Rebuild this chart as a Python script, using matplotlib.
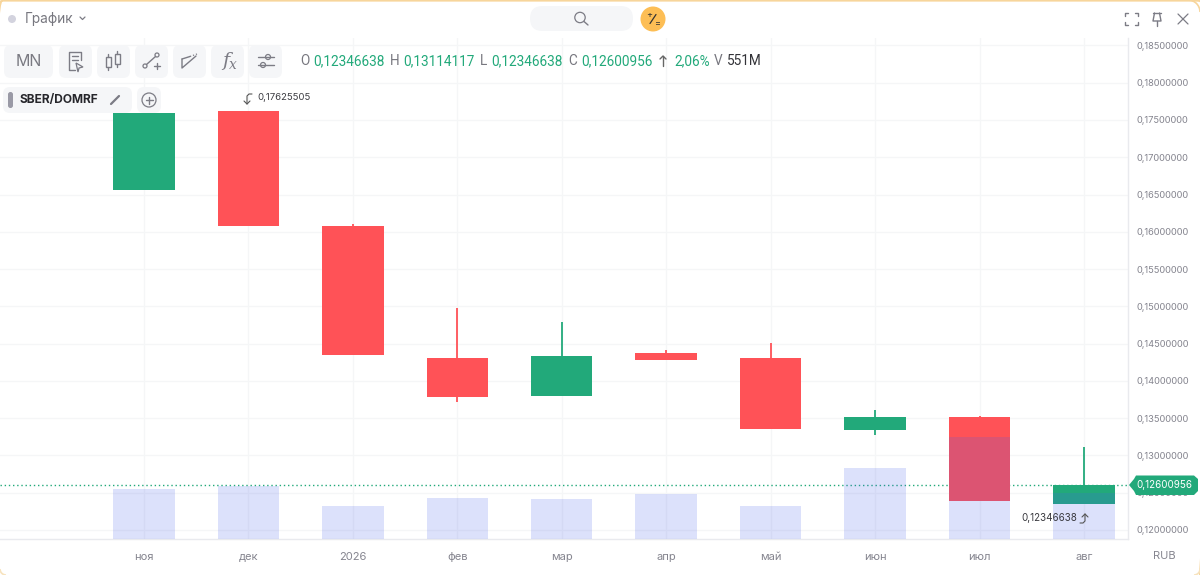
import matplotlib
matplotlib.use("Agg")
import matplotlib.pyplot as plt
from matplotlib.patches import FancyBboxPatch, Circle, Polygon, Rectangle, Arc

plt.rcParams['font.family'] = ['Inter', 'DejaVu Sans']

# Datos de las velas mensuales
meses = ["ноя", "дек", "2026", "фев", "мар", "апр", "май", "июн", "июл", "авг"]
apertura = [0.1656, 0.17621, 0.1608, 0.14301, 0.13798, 0.14375, 0.14301, 0.13342, 0.13516, 0.12346638]
cierre = [0.1759, 0.16078, 0.14348, 0.13784, 0.14328, 0.14281, 0.13355, 0.13516, 0.12389, 0.12600956]
maximo = [0.1759, 0.17625505, 0.16105, 0.14978, 0.1479, 0.14415, 0.14509, 0.1361, 0.1353, 0.13114117]
minimo = [0.1656, 0.16078, 0.14348, 0.13717, 0.13798, 0.14281, 0.13355, 0.13274, 0.12389, 0.12346638]
volumen = [599, 635, 395, 491, 479, 545, 395, 851, 1222, 551]
precios_eje = [0.12, 0.125, 0.13, 0.135, 0.14, 0.145, 0.15, 0.155, 0.16, 0.165, 0.17, 0.175, 0.18, 0.185]
ultimo = 0.12600956

VERDE = "#22A97A"
ROJO = "#FF5257"
GRIS = "#85858F"
ICONO = "#7C7C85"

W, H = 1200, 575
fig = plt.figure(figsize=(W / 100, H / 100), dpi=100, facecolor="white")

# Ejes del grafico principal
ax = fig.add_axes([0, (H - 539) / H, 1128 / W, (539 - 38) / H])
ax.set_xlim(-1.378, 9.421)
ax.set_ylim(0.11879, 0.18600)
ax.set_facecolor("white")
ax.set_axisbelow(True)
ax.grid(True, color="#F5F6F7", lw=0.9)
for lado in ["top", "left"]:
    ax.spines[lado].set_visible(False)
for lado in ["right", "bottom"]:
    ax.spines[lado].set_color("#E9EAEE")
    ax.spines[lado].set_linewidth(1)

x = list(range(len(meses)))

# Linea punteada del ultimo precio
ax.axhline(ultimo, color=VERDE, lw=1, ls=(0, (1, 2)), zorder=1)

# Velas
for i in x:
    color = VERDE if cierre[i] >= apertura[i] else ROJO
    ax.vlines(i, minimo[i], maximo[i], color=color, lw=1.3, zorder=2)
    abajo = min(apertura[i], cierre[i])
    ax.bar(i, abs(cierre[i] - apertura[i]), bottom=abajo, width=0.588, color=color, zorder=3)

# Volumen encima de las velas
ax2 = ax.twinx()
ax2.set_ylim(0, 6002)
ax2.axis("off")
ax2.bar(x, volumen, width=0.588, color="#4761EA", alpha=0.19, lw=0)

# twinx deja las marcas a la izquierda, se vuelven a poner a la derecha
ax.set_xticks(x)
ax.set_xticklabels(meses)
ax.yaxis.tick_right()
ax.set_yticks(precios_eje)
ax.set_yticklabels(["{:.8f}".format(p).replace(".", ",") for p in precios_eje])
ax.tick_params(axis="x", length=0, pad=9, labelsize=8, labelcolor=GRIS)
ax.tick_params(axis="y", length=0, pad=6.2, labelsize=6.7, labelcolor=GRIS)

# Capa con la interfaz, en pixeles
ui = fig.add_axes([0, 0, 1, 1], zorder=10)
ui.set_xlim(0, W)
ui.set_ylim(H, 0)
ui.axis("off")


def boton(x0, y0, x1, y1, radio=7, color="#F5F6F8"):
    ui.add_patch(FancyBboxPatch((x0 + radio, y0 + radio), x1 - x0 - 2 * radio, y1 - y0 - 2 * radio,
                                boxstyle="round,pad={},rounding_size={}".format(radio, radio),
                                fc=color, ec="none"))


def trazo(xs, ys, color=ICONO, lw=1.0):
    ui.plot(xs, ys, color=color, lw=lw, solid_capstyle="round")


# Borde superior naranja
ui.add_patch(FancyBboxPatch((-10, 0.5), W + 20 - 2, H + 20, boxstyle="round,pad=0,rounding_size=12",
                            fc="none", ec="#F7D59B", lw=1.6))
ui.add_patch(Arc((W - 12, 12), 24, 24, theta1=-90, theta2=0, color="#F7D59B", lw=1.2))
ui.add_patch(Arc((W - 6, H - 6), 12, 12, theta1=0, theta2=90, color="#F7E3BE", lw=1.2))
ui.add_patch(Arc((6, H - 6), 12, 12, theta1=90, theta2=180, color="#F7E3BE", lw=1.2))

# Cabecera
ui.add_patch(Circle((12, 19), 4, fc="#D3D3DE", ec="none"))
ui.text(25, 19, "График", fontsize=9.8, color="#77777F", va="center")
trazo([80, 82.5, 85], [17, 19.5, 17], lw=0.9)
boton(530, 6, 633, 31, radio=12.5)
ui.add_patch(Circle((580, 17.5), 5.2, fc="none", ec=ICONO, lw=0.9))
trazo([584, 588], [21.5, 25])
ui.add_patch(Circle((653, 19), 12.5, fc="#FDBE55", ec="none"))
trazo([650, 656], [23.5, 14.5], color="#333333", lw=0.9)
ui.text(649.5, 14.5, "+", fontsize=6.5, color="#333333", ha="center", va="center")
ui.text(657.5, 23.5, "=", fontsize=6.5, color="#333333", ha="center", va="center")

# Iconos de la derecha
for sx, sy in [(1125, 13), (1138, 13), (1125, 25), (1138, 25)]:
    dx = 3 if sx < 1130 else -3
    dy = 3 if sy < 19 else -3
    trazo([sx + dx, sx, sx], [sy, sy, sy + dy], lw=1.0)
trazo([1153, 1161], [13, 13])
trazo([1154.5, 1153, 1161, 1159.5], [13, 21, 21, 13])
trazo([1157, 1157], [21, 26])
trazo([1178, 1188], [14, 24], lw=0.9)
trazo([1188, 1178], [14, 24], lw=0.9)

# Barra de herramientas
boton(4, 45, 53, 78)
for x0 in [59, 97, 135, 173, 211, 249]:
    boton(x0, 45, x0 + 33, 78)
ui.text(28.5, 61, "MN", fontsize=11.5, color="#7A7A82", ha="center", va="center")
# informe
trazo([81, 81, 69, 69, 75], [60, 52, 52, 70, 70])
trazo([72, 78], [56, 56])
trazo([72, 78], [60, 60])
ui.add_patch(Polygon([(76, 63), (83, 67), (79, 68), (78, 72)], fc="none", ec=ICONO, lw=0.9))
# velas
ui.add_patch(Rectangle((105.5, 57), 5, 10, fc="none", ec=ICONO, lw=1))
ui.add_patch(Rectangle((114.5, 54), 5, 10, fc="none", ec=ICONO, lw=1))
trazo([108, 108], [54, 57])
trazo([108, 108], [67, 70])
trazo([117, 117], [51, 54])
trazo([117, 117], [64, 67])
# linea
ui.add_patch(Circle((145, 66), 2, fc="none", ec=ICONO, lw=0.9))
ui.add_patch(Circle((157, 55), 2, fc="none", ec=ICONO, lw=0.9))
trazo([146.5, 155.5], [64.5, 56.5])
trazo([154, 160], [66, 66])
trazo([157, 157], [63, 69])
# canal
trazo([182, 182, 196], [59, 68, 56])
trazo([182, 190], [59, 56.5])
ui.plot([190, 197], [56.5, 54], color=ICONO, lw=0.9, ls=(0, (1, 1.5)))
# fx
ui.text(222, 61, "f", fontsize=14, color=ICONO, family="DejaVu Serif", style="italic", va="center")
ui.text(228.5, 65, "x", fontsize=10, color=ICONO, family="DejaVu Serif", style="italic", va="center")
# ajustes
trazo([258, 274], [57, 57])
trazo([258, 274], [65, 65])
ui.add_patch(Circle((268, 57), 2.5, fc="#F5F6F8", ec=ICONO, lw=0.9))
ui.add_patch(Circle((263, 65), 2.5, fc="#F5F6F8", ec=ICONO, lw=0.9))

# Valores OHLC
piezas = [(300, "O", "#77777F"), (313, "0,12346638", VERDE), (390, "H", "#77777F"), (403, "0,13114117", VERDE),
          (480, "L", "#77777F"), (491, "0,12346638", VERDE), (568, "C", "#77777F"), (581, "0,12600956", VERDE),
          (674, "2,06%", VERDE), (714, "V", "#77777F"), (727, "551M", "#333338")]
for px, texto, color in piezas:
    ui.text(px, 61, texto, fontsize=9.8, family="Roboto", color=color, va="center")
trazo([663, 663], [56, 66], color="#666666")
trazo([660, 663, 666], [59, 56, 59], color="#666666")

# Leyenda
boton(3, 87, 132, 113)
boton(137, 87, 161, 113)
boton(8, 92, 13, 108, radio=2.4, color="#9A9AA6")
ui.text(20, 100, "SBER/DOMRF", fontsize=8.6, fontweight="bold", color="#26262B", va="center")
trazo([111, 119], [104, 96], lw=1.6)
ui.add_patch(Circle((149, 100), 7, fc="none", ec=ICONO, lw=0.9))
trazo([145.5, 152.5], [100, 100])
trazo([149, 149], [96.5, 103.5])

# Marcas de maximo y minimo
trazo([252, 249, 247, 247], [94, 94, 96, 104], color="#555555", lw=0.8)
trazo([244, 247, 250], [101, 104, 101], color="#555555", lw=0.8)
ui.text(257, 97, "0,17625505", fontsize=6.9, color="#3A3A40", va="center")
ui.text(1021, 518, "0,12346638", fontsize=7.1, color="#3A3A40", va="center")
trazo([1080, 1083, 1085, 1085], [523, 523, 521, 514], color="#555555", lw=0.8)
trazo([1082, 1085, 1088], [517, 514, 517], color="#555555", lw=0.8)

# Etiqueta del ultimo precio
ui.add_patch(Polygon([(1129, 485), (1134, 479), (1136, 475.5), (1194, 475.5), (1198, 479), (1198, 491),
                      (1194, 495), (1136, 495), (1134, 491)], fc=VERDE, ec="none"))
ui.text(1164, 485.5, "0,12600956", fontsize=7.1, color="white", ha="center", va="center")
ui.text(1164, 556, "RUB", fontsize=8, color=GRIS, ha="center", va="center")

fig.savefig("out.png", dpi=100)
